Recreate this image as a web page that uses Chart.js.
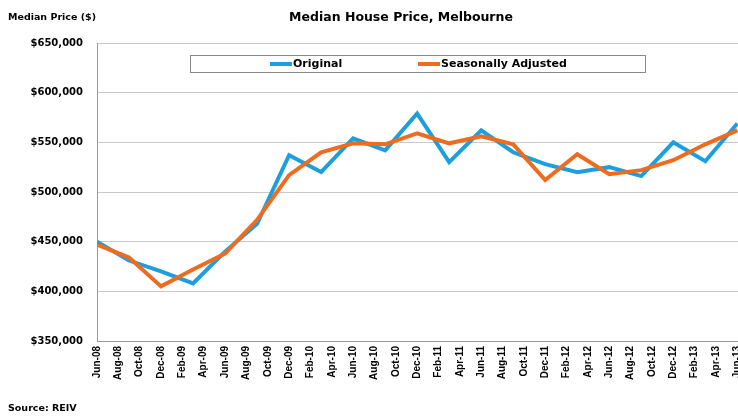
<!DOCTYPE html>
<html>
<head>
<meta charset="utf-8">
<script src="https://cdn.jsdelivr.net/npm/chart.js@4"></script>
<style>
  html, body { margin: 0; padding: 0; background: #fff; overflow: hidden; }
  #wrap { width: 738px; height: 417px; overflow: hidden; }
</style>
</head>
<body>
<div id="wrap"><canvas id="myChart" width="760" height="417"></canvas></div>
<script>
// Quarterly observations, Jun-08 to Jun-13
var quarters = ["Jun-08", "Sep-08", "Dec-08", "Mar-09", "Jun-09", "Sep-09", "Dec-09", "Mar-10",
    "Jun-10", "Sep-10", "Dec-10", "Mar-11", "Jun-11", "Sep-11", "Dec-11", "Mar-12",
    "Jun-12", "Sep-12", "Dec-12", "Mar-13", "Jun-13"];
var original = [450000, 431000, 420000, 408000, 440000, 468000, 537000, 520000,
    554000, 542000, 579000, 530000, 562000, 540000, 528000, 520000,
    525000, 516000, 550000, 531000, 569000];
var seasonal = [447000, 434000, 405000, 422000, 438000, 472000, 517000, 540000,
    549000, 548000, 559000, 549000, 556000, 548000, 512000, 538000,
    518000, 522000, 532000, 548000, 562000];

// Axis labels every two months
var tickLabels = ["Jun-08", "Aug-08", "Oct-08", "Dec-08", "Feb-09", "Apr-09", "Jun-09", "Aug-09",
    "Oct-09", "Dec-09", "Feb-10", "Apr-10", "Jun-10", "Aug-10", "Oct-10", "Dec-10",
    "Feb-11", "Apr-11", "Jun-11", "Aug-11", "Oct-11", "Dec-11", "Feb-12", "Apr-12",
    "Jun-12", "Aug-12", "Oct-12", "Dec-12", "Feb-13", "Apr-13", "Jun-13"];

var blue = "#1c9fdc";
var orange = "#ee6c1f";
var boldFont = "'DejaVu Sans', sans-serif";

// month index on the x axis: quarter i sits at month 3*i
function toPoints(values) {
    return values.map(function(v, i) {
        return { x: i * 3, y: v, label: quarters[i] };
    });
}

// titles, source note and boxed legend
var extras = {
    id: "extras",
    afterDraw: function(chart) {
        var ctx = chart.ctx;
        ctx.save();
        ctx.fillStyle = "#000";
        ctx.textBaseline = "middle";

        ctx.font = "bold 12.5px " + boldFont;
        ctx.textAlign = "center";
        ctx.fillText("Median House Price, Melbourne", 401, 18);

        ctx.font = "bold 9.5px " + boldFont;
        ctx.textAlign = "left";
        ctx.fillText("Median Price ($)", 8, 18);
        ctx.fillText("Source: REIV", 8, 409);

        // legend box
        ctx.strokeStyle = "#8a8a8a";
        ctx.lineWidth = 1;
        ctx.strokeRect(190.5, 55.5, 455, 17);

        var items = [
            { ds: chart.data.datasets[0], x: 270 },
            { ds: chart.data.datasets[1], x: 418 }
        ];
        items.forEach(function(it) {
            ctx.strokeStyle = it.ds.borderColor;
            ctx.lineWidth = 4;
            ctx.beginPath();
            ctx.moveTo(it.x, 64);
            ctx.lineTo(it.x + 22, 64);
            ctx.stroke();
            ctx.fillStyle = "#000";
            ctx.font = "bold 11px " + boldFont;
            ctx.textAlign = "left";
            ctx.fillText(it.ds.label, it.x + 23, 64);
        });
        ctx.restore();
    }
};

var ctx = document.getElementById("myChart").getContext("2d");
var chart = new Chart(ctx, {
    type: "line",
    data: {
        datasets: [{
            label: "Original",
            data: toPoints(original),
            borderColor: blue,
            backgroundColor: blue,
            borderWidth: 4,
            pointRadius: 0,
            tension: 0,
            order: 1
        }, {
            label: "Seasonally Adjusted",
            data: toPoints(seasonal),
            borderColor: orange,
            backgroundColor: orange,
            borderWidth: 4,
            pointRadius: 0,
            tension: 0,
            order: 0
        }]
    },
    options: {
        responsive: false,
        animation: false,
        devicePixelRatio: 1,
        layout: { padding: { top: 43, left: 0, right: 12, bottom: 0 } },
        plugins: {
            legend: { display: false },
            tooltip: { enabled: false },
            title: { display: false }
        },
        scales: {
            x: {
                type: "linear",
                min: 0,
                max: 61,
                afterBuildTicks: function(axis) {
                    axis.ticks = tickLabels.map(function(l, j) { return { value: j * 2 }; });
                },
                afterFit: function(axis) { axis.height = 76; },
                grid: { display: false, drawTicks: false },
                border: { color: "#9a9a9a", width: 1 },
                ticks: {
                    autoSkip: false,
                    minRotation: 90,
                    maxRotation: 90,
                    padding: 5,
                    color: "#000",
                    font: { family: "'Liberation Sans', Arial, sans-serif", size: 10, weight: "bold" },
                    callback: function(v) { return tickLabels[v / 2]; }
                }
            },
            y: {
                min: 350000,
                max: 650000,
                afterFit: function(axis) { axis.width = 97; },
                grid: { color: "#c9c9c9", lineWidth: 1, drawTicks: false },
                border: { color: "#9a9a9a", width: 1 },
                ticks: {
                    stepSize: 50000,
                    padding: 14,
                    color: "#000",
                    font: { family: boldFont, size: 10, weight: "bold" },
                    callback: function(v) { return "$" + v.toLocaleString("en-US"); }
                }
            }
        }
    },
    plugins: [extras]
});
</script>
</body>
</html>
